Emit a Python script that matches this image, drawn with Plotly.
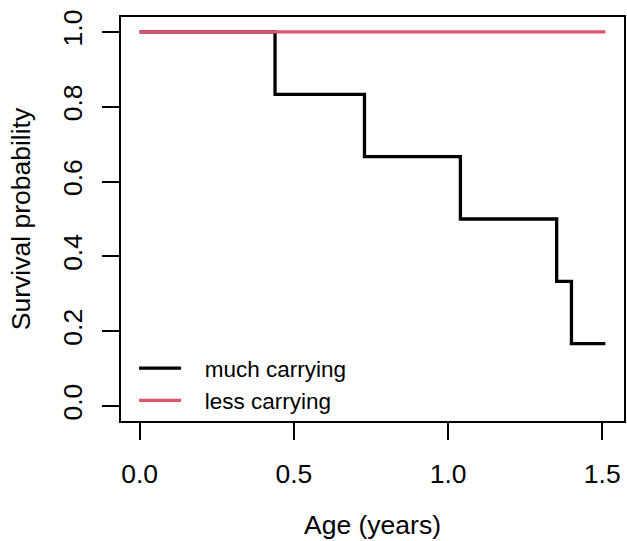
import plotly.graph_objects as go

# Kaplan-Meier step data
much_time = [0.0, 0.439, 0.729, 1.040, 1.352, 1.400, 1.510]
much_surv = [1.0, 0.8333, 0.6667, 0.5, 0.3333, 0.1667, 0.1667]
less_time = [0.0, 1.510]
less_surv = [1.0, 1.0]

series_names = ["much carrying", "less carrying"]
x_ticks = [0.0, 0.5, 1.0, 1.5]
x_tick_labels = ["0.0", "0.5", "1.0", "1.5"]
y_ticks = [0.0, 0.2, 0.4, 0.6, 0.8, 1.0]
y_tick_labels = ["0.0", "0.2", "0.4", "0.6", "0.8", "1.0"]

FONT = "Liberation Sans, Arial, Helvetica, sans-serif"
PAD = "\u00a0\u00a0\u00a0"

fig = go.Figure()
fig.add_trace(go.Scatter(x=much_time, y=much_surv, mode="lines", name=PAD + series_names[0],
                         line=dict(color="black", width=3.3, shape="hv")))
fig.add_trace(go.Scatter(x=less_time, y=less_surv, mode="lines", name=PAD + series_names[1],
                         line=dict(color="#DF536B", width=3.3, shape="hv")))

axis_common = dict(showgrid=False, zeroline=False, showline=True, mirror=True,
                   linecolor="black", linewidth=1.6, ticks="outside", ticklen=17,
                   tickwidth=1.6, tickcolor="black",
                   tickfont=dict(family=FONT, size=26.5, color="black"))

fig.update_layout(
    width=627, height=541,
    margin=dict(l=121, r=1, t=17, b=120),
    paper_bgcolor="white", plot_bgcolor="white",
    xaxis=dict(range=[-0.0604, 1.5704], tickvals=x_ticks, ticktext=x_tick_labels,
               ticklabelstandoff=11,
               title=dict(text="Age (years)", font=dict(family=FONT, size=26.5, color="black"),
                          standoff=28),
               **axis_common),
    yaxis=dict(range=[-0.04, 1.04], tickvals=y_ticks, ticktext=y_tick_labels,
               tickangle=-90, ticklabelstandoff=10,
               title=dict(text="Survival probability", font=dict(family=FONT, size=26.5, color="black"),
                          standoff=19),
               **axis_common),
    legend=dict(x=0.026, y=0.183, xanchor="left", yanchor="top", bgcolor="rgba(0,0,0,0)",
                font=dict(family=FONT, size=22.5, color="black"), itemwidth=42,
                tracegroupgap=0),
    showlegend=True,
)

fig.write_html("out.html", config={"displayModeBar": False},
               post_script="document.body.style.margin='0';document.body.style.padding='0';")
